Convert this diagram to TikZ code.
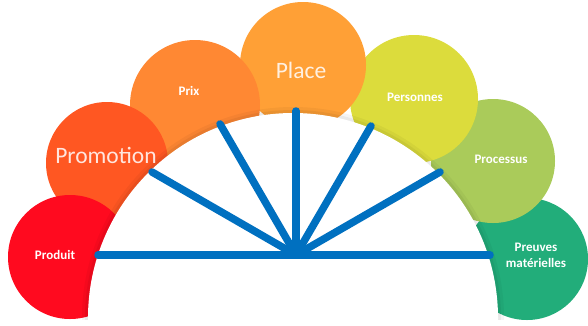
\documentclass[tikz,border=0pt]{standalone}
\usepackage{fontspec}
\setmainfont{Carlito}
\definecolor{cProduit}{HTML}{FF0A1F}
\definecolor{cPromo}{HTML}{FF5722}
\definecolor{cPrix}{HTML}{FF8833}
\definecolor{cPlace}{HTML}{FFA036}
\definecolor{cPers}{HTML}{DCDC3C}
\definecolor{cProc}{HTML}{AACB5A}
\definecolor{cPreuves}{HTML}{22AD7A}
\definecolor{spokeblue}{HTML}{0070C0}
\begin{document}
\begin{tikzpicture}[x=1pt,y=-1pt,
  petal/.style={circle, inner sep=0pt, draw=none},
  small/.style={text=white, font=\bfseries\fontsize{13}{15}\selectfont, align=center},
  big/.style={text=white, text opacity=0.85, font=\fontsize{23.5}{26}\selectfont},
  spoke/.style={draw=spokeblue, line width=7.5pt, line cap=round}]
\useasboundingbox (0,0) rectangle (588,325);
% petals, back to front
\node[petal, fill=cPreuves, minimum size=122pt] (preuves) at (527,259) {};
\node[petal, fill=cProc, minimum size=124pt] (proc) at (493,161) {};
\node[petal, fill=cPers, minimum size=128pt] (pers) at (414,99) {};
\node[petal, fill=cPlace, minimum size=126pt] (place) at (303,65) {};
\node[petal, fill=cPrix, minimum size=130pt] (prix) at (195,105) {};
\node[petal, fill=cPromo, minimum size=122pt] (promo) at (107,163) {};
\node[petal, fill=cProduit, minimum size=124pt] (produit) at (70,257) {};
% white half disc with soft shadow
\begin{scope}
\clip (0,0) rectangle (588,319);
\fill[black, opacity=0.04] (293,318) circle (211);
\fill[black, opacity=0.05] (293,318) circle (208);
\fill[white] (293,318) circle (205);
\end{scope}
% spokes
\coordinate (hub) at (296,255);
\coordinate (eA) at (98,255);
\coordinate (eB) at (152,172);
\coordinate (eC) at (220,124);
\coordinate (eD) at (296,111);
\coordinate (eE) at (371,126);
\coordinate (eF) at (440,172);
\coordinate (eG) at (490,255);
\foreach \e in {eA,eB,eC,eD,eE,eF,eG}
  \draw[spoke] (hub) -- (\e);
% labels
\node[small] (tProduit) at (55,255) {Produit};
\node[big] (tPromo) at (106,155) {Promotion};
\node[small] (tPrix) at (189,91) {Prix};
\node[big] (tPlace) at (301,70) {Place};
\node[small] (tPers) at (415,97) {Personnes};
\node[small] (tProc) at (501,159) {Processus};
\node[small, text width=70pt, inner sep=0pt, font=\bfseries\fontsize{13}{16}\selectfont] (tPreuves) at (536,255) {Preuves\\matérielles};
\end{tikzpicture}
\end{document}
